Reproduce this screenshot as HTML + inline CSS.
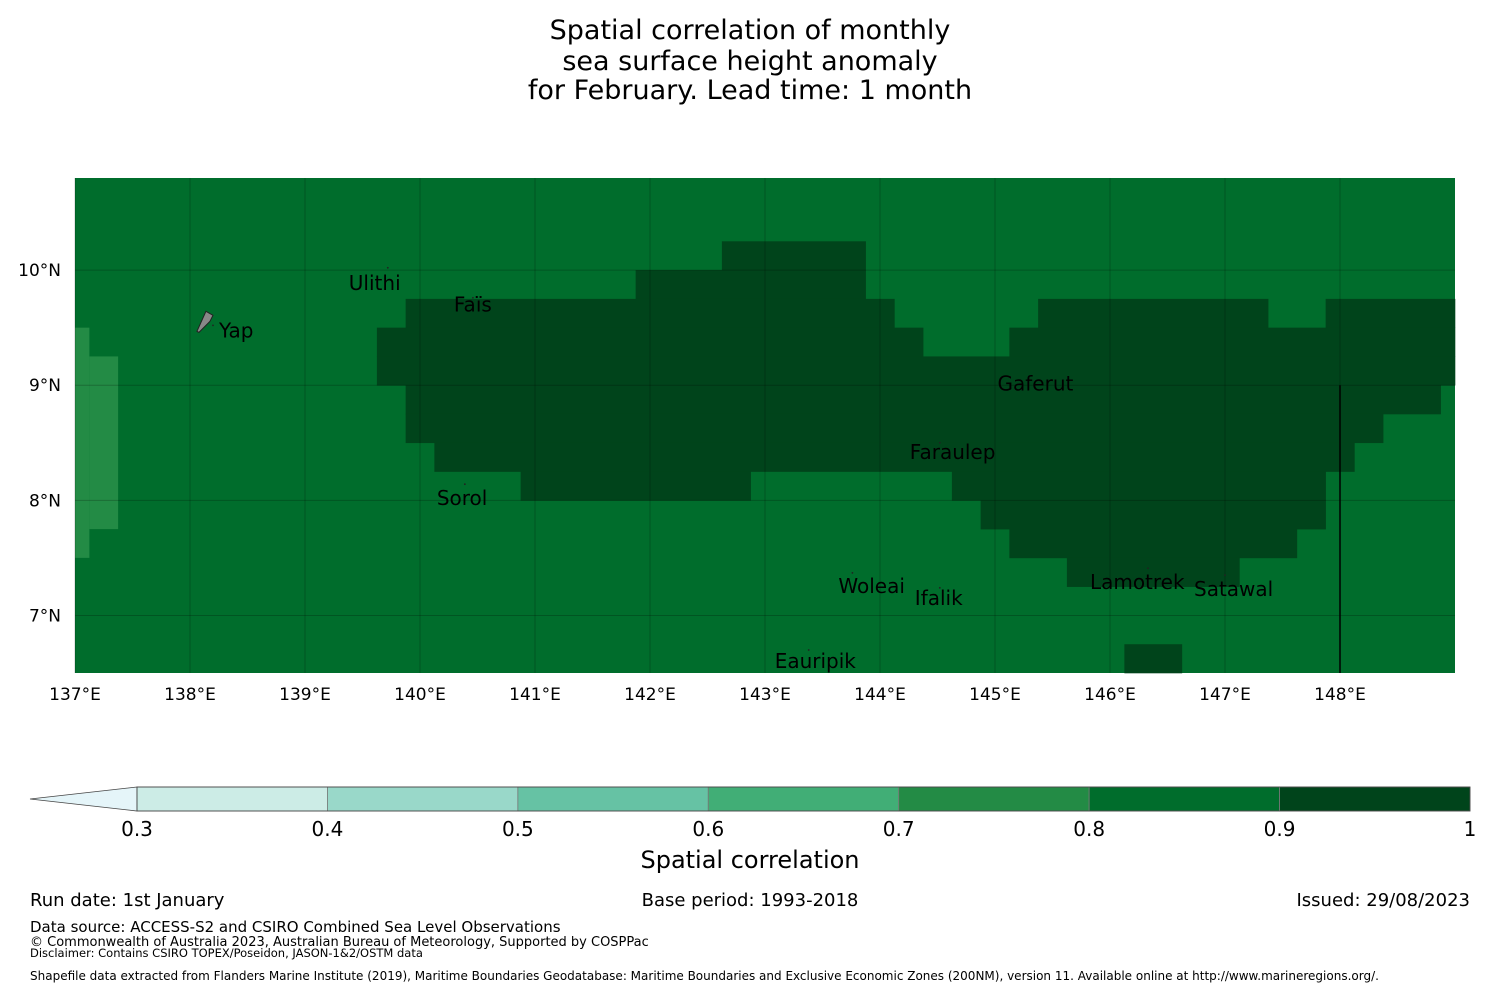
<!DOCTYPE html>
<html><head><meta charset="utf-8"><style>
html,body{margin:0;padding:0;background:#fff;}
svg{display:block;font-family:"DejaVu Sans","Liberation Sans",sans-serif;}
</style></head><body>
<svg id="chart" width="1500" height="990" viewBox="0 0 1500 990" xmlns="http://www.w3.org/2000/svg">
<g font-size="27" text-anchor="middle" fill="#000">
<text x="750" y="39">Spatial correlation of monthly</text>
<text x="750" y="70">sea surface height anomaly</text>
<text x="750" y="99">for February. Lead time: 1 month</text>
</g>
<g id="map"></g>
<g id="cbar"></g>
<text x="750" y="868" font-size="24" text-anchor="middle">Spatial correlation</text>
<g font-size="18">
<text x="30" y="906">Run date: 1st January</text>
<text x="750" y="906" text-anchor="middle">Base period: 1993-2018</text>
<text x="1470" y="906" text-anchor="end">Issued: 29/08/2023</text>
<text x="30" y="932" font-size="15">Data source: ACCESS-S2 and CSIRO Combined Sea Level Observations</text>
<text x="30" y="946" font-size="13">© Commonwealth of Australia 2023, Australian Bureau of Meteorology, Supported by COSPPac</text>
<text x="30" y="957" font-size="11.5">Disclaimer: Contains CSIRO TOPEX/Poseidon, JASON-1&amp;2/OSTM data</text>
<text x="30" y="980" font-size="12">Shapefile data extracted from Flanders Marine Institute (2019), Maritime Boundaries Geodatabase: Maritime Boundaries and Exclusive Economic Zones (200NM), version 11. Available online at http://www.marineregions.org/.</text>
</g>
</svg>
<script>
// ---- data ----
const lonTicks = [137,138,139,140,141,142,143,144,145,146,147,148];
const latTicks = [10,9,8,7];
const levels = [0.3,0.4,0.5,0.6,0.7,0.8,0.9,1];
const levelColors = ["#ccece6","#99d8c9","#66c2a4","#41ae76","#238b45","#006d2c","#00441b"];
const backgroundValue = 0.85;
// high-correlation (0.9-1) runs: [latTop, latBottom, lonStart, lonEnd]
const darkRuns = [
 [10.25,10.0,142.625,143.875],
 [10.0,9.75,141.875,143.875],
 [9.75,9.5,139.875,144.125],[9.75,9.5,145.375,147.375],[9.75,9.5,147.875,149],
 [9.5,9.25,139.625,144.375],[9.5,9.25,145.125,149],
 [9.25,9.0,139.625,149],
 [9.0,8.75,139.875,148.875],
 [8.75,8.5,139.875,148.375],
 [8.5,8.25,140.125,148.125],
 [8.25,8.0,140.875,142.875],[8.25,8.0,144.625,147.875],
 [8.0,7.75,144.875,147.875],
 [7.75,7.5,145.125,147.625],
 [7.5,7.25,145.625,147.125],
 [6.75,6.5,146.125,146.625]
];
const darkValue = 0.95;
// lower (0.7-0.8) runs
const lightRuns = [[9.5,7.5,137.0,137.125],[9.25,7.75,137.125,137.375]];
const lightValue = 0.75;
// island position and label start offset (px)
const islands = [
 {name:"Ulithi",lon:139.72,lat:10.02,dx:-39,dy:22},
 {name:"Faïs",lon:140.46,lat:9.76,dx:-19,dy:14},
 {name:"Yap",lon:138.2,lat:9.52,dx:6,dy:12},
 {name:"Gaferut",lon:145.3,lat:9.05,dx:-32,dy:11},
 {name:"Faraulep",lon:144.52,lat:8.5,dx:-30,dy:16},
 {name:"Sorol",lon:140.39,lat:8.14,dx:-28,dy:21},
 {name:"Woleai",lon:143.76,lat:7.37,dx:-14,dy:20},
 {name:"Ifalik",lon:144.52,lat:7.24,dx:-25,dy:17},
 {name:"Lamotrek",lon:146.33,lat:7.41,dx:-58,dy:21},
 {name:"Satawal",lon:147.0,lat:7.35,dx:-31,dy:21},
 {name:"Eauripik",lon:143.38,lat:6.7,dx:-34,dy:18}
];
const boundaryLon = 148, boundaryLatTop = 9.0;
// ---- axes ----
const X0=75, X1=1455, lonMin=137, lonMax=149;
const Y0=178, Y1=673, latMax=10.8, latMin=6.5;
const xs = lon => X0 + (lon-lonMin)/(lonMax-lonMin)*(X1-X0);
const ys = lat => Y0 + (latMax-lat)/(latMax-latMin)*(Y1-Y0);
const colorFor = v => { for(let i=0;i<levels.length-1;i++){ if(v>=levels[i]&&v<levels[i+1]) return levelColors[i]; } return levelColors[levelColors.length-1]; };
const NS="http://www.w3.org/2000/svg";
function mk(tag, attrs, parent){ const e=document.createElementNS(NS,tag); for(const k in attrs) e.setAttribute(k,attrs[k]); parent.appendChild(e); return e; }
const map=document.getElementById('map');
let r=mk('rect',{x:X0,y:Y0,width:X1-X0,height:Y1-Y0,fill:colorFor(backgroundValue)},map);


lightRuns.forEach(d=>{ const e=mk('rect',{x:xs(d[2]),y:ys(d[0]),width:xs(d[3])-xs(d[2]),height:ys(d[1])-ys(d[0]),fill:colorFor(lightValue)},map);
 
  });
darkRuns.forEach(d=>{ const e=mk('rect',{x:xs(d[2]),y:ys(d[0]),width:xs(d[3])-xs(d[2])+0.3,height:ys(d[1])-ys(d[0])+0.3,fill:colorFor(darkValue)},map);
 
  });
lonTicks.forEach(l=>{ const x=xs(l);
 const g=mk('line',{x1:x,x2:x,y1:Y0,y2:Y1,stroke:"rgba(0,0,0,0.22)","stroke-width":1},map);
 
 
 const t=mk('text',{x:x,y:700,"font-size":17,"text-anchor":"middle"},map); t.textContent=l+"°E";
 
  });
latTicks.forEach(l=>{ const y=ys(l);
 const g=mk('line',{x1:X0,x2:X1,y1:y,y2:y,stroke:"rgba(0,0,0,0.22)","stroke-width":1},map);
 
 
 const t=mk('text',{x:61,y:y+6,"font-size":17,"text-anchor":"end"},map); t.textContent=l+"°N";
 
  });
const bl=mk('line',{x1:xs(boundaryLon),x2:xs(boundaryLon),y1:ys(boundaryLatTop),y2:Y1,stroke:"#000","stroke-width":1.5},map);


// Yap island shape
const yx=xs(138.13)+4, yy=ys(9.52);
const yp=mk('path',{d:`M${yx-12},${yy+6} L${yx-3},${yy-14} L${yx+4},${yy-10} L${yx+1},${yy-4} L${yx-10},${yy+7} Z`,fill:"#888",stroke:"#222","stroke-width":1},map);


islands.forEach(d=>{ const x=xs(d.lon), y=ys(d.lat);
 const dot=mk('circle',{cx:x,cy:y,r:0.9,fill:"#222"},map);
 
 
 const t=mk('text',{x:x+d.dx,y:y+d.dy,"font-size":20,fill:"#000"},map); t.textContent=d.name;
 
  });
// ---- colorbar ----
const cb=document.getElementById('cbar');
const CX0=137, CX1=1470, CY0=787, CY1=811;
const cx = v => CX0 + (v-levels[0])/(levels[levels.length-1]-levels[0])*(CX1-CX0);
const ext=mk('path',{d:`M${CX0},${CY0} L30,${(CY0+CY1)/2} L${CX0},${CY1} Z`,fill:"#e5f5f9",stroke:"#444","stroke-width":0.8},cb);


levelColors.forEach((c,i)=>{ const e=mk('rect',{x:cx(levels[i]),y:CY0,width:cx(levels[i+1])-cx(levels[i]),height:CY1-CY0,fill:c,stroke:"#777","stroke-width":0.8},cb);
 
  });
const ob=mk('rect',{x:CX0,y:CY0,width:CX1-CX0,height:CY1-CY0,fill:"none",stroke:"#444","stroke-width":0.8},cb);


levels.forEach(v=>{ const t=mk('text',{x:cx(v),y:836,"font-size":20,"text-anchor":"middle"},cb); t.textContent=String(v);
 
  });
</script>
</body></html>
